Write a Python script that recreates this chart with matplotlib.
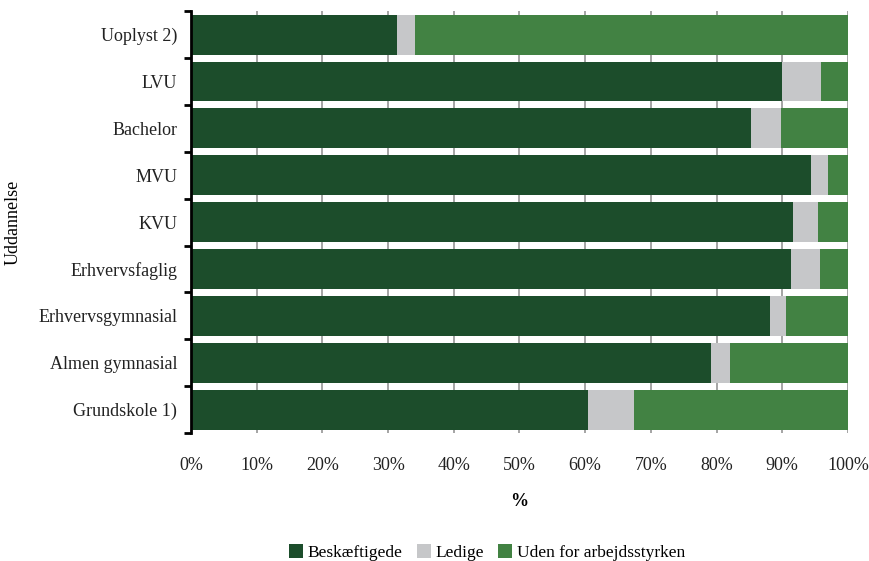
import numpy as np
import matplotlib.pyplot as plt

categories = ["Grundskole 1)", "Almen gymnasial", "Erhvervsgymnasial", "Erhvervsfaglig",
              "KVU", "MVU", "Bachelor", "LVU", "Uoplyst 2)"]
beskaeftigede = [60.5, 79.1, 88.2, 91.4, 91.7, 94.3, 85.2, 90.0, 31.3]
ledige = [7.0, 2.9, 2.4, 4.3, 3.8, 2.6, 4.6, 5.9, 2.8]
uden = [100 - b - l for b, l in zip(beskaeftigede, ledige)]
xticks = np.arange(0, 101, 10)

plt.rcParams["font.family"] = ["Liberation Serif", "DejaVu Serif"]

fig = plt.figure(figsize=(8.7, 5.61), dpi=100)
ax = fig.add_axes([0.2195, 0.228, 0.7552, 0.752])

y = np.arange(len(categories))
h = 0.85
ax.barh(y, beskaeftigede, height=h, color="#1c4d2b", label="Beskæftigede", zorder=3)
ax.barh(y, ledige, left=beskaeftigede, height=h, color="#c6c7c9", label="Ledige", zorder=3)
left2 = [b + l for b, l in zip(beskaeftigede, ledige)]
ax.barh(y, uden, left=left2, height=h, color="#428243",
        label="Uden for arbejdsstyrken", zorder=3)

ax.set_xlim(0, 100)
ax.set_ylim(-0.5, len(categories) - 0.5)
ax.set_xticks(xticks)
ax.set_xticklabels([f"{v}%" for v in xticks], fontsize=13, color="#222222")
ax.set_yticks(y)
ax.set_yticklabels(categories, fontsize=13, color="#222222")
ax.set_yticks(np.arange(-0.5, len(categories)), minor=True)
ax.tick_params(axis="y", which="major", length=0, pad=10)
ax.tick_params(axis="y", which="minor", length=5, width=2, color="black", direction="out")
ax.tick_params(axis="x", length=0, pad=17)

ax.grid(axis="x", color="#8c8c8c", linewidth=1.1, zorder=0)
for s in ["top", "right", "bottom"]:
    ax.spines[s].set_visible(False)
ax.spines["left"].set_linewidth(2)
ax.spines["left"].set_zorder(4)

ax.set_xlabel("%", fontsize=13, fontweight="bold", labelpad=14)
ax.set_ylabel("Uddannelse", fontsize=13)
ax.yaxis.set_label_coords(-0.258, 0.5)

fig.legend(loc="lower center", bbox_to_anchor=(0.56, -0.028), ncol=3, frameon=False,
           fontsize=12.5, handlelength=0.8, handleheight=0.8, handletextpad=0.3,
           columnspacing=0.8)

fig.savefig("out.png", dpi=100)
